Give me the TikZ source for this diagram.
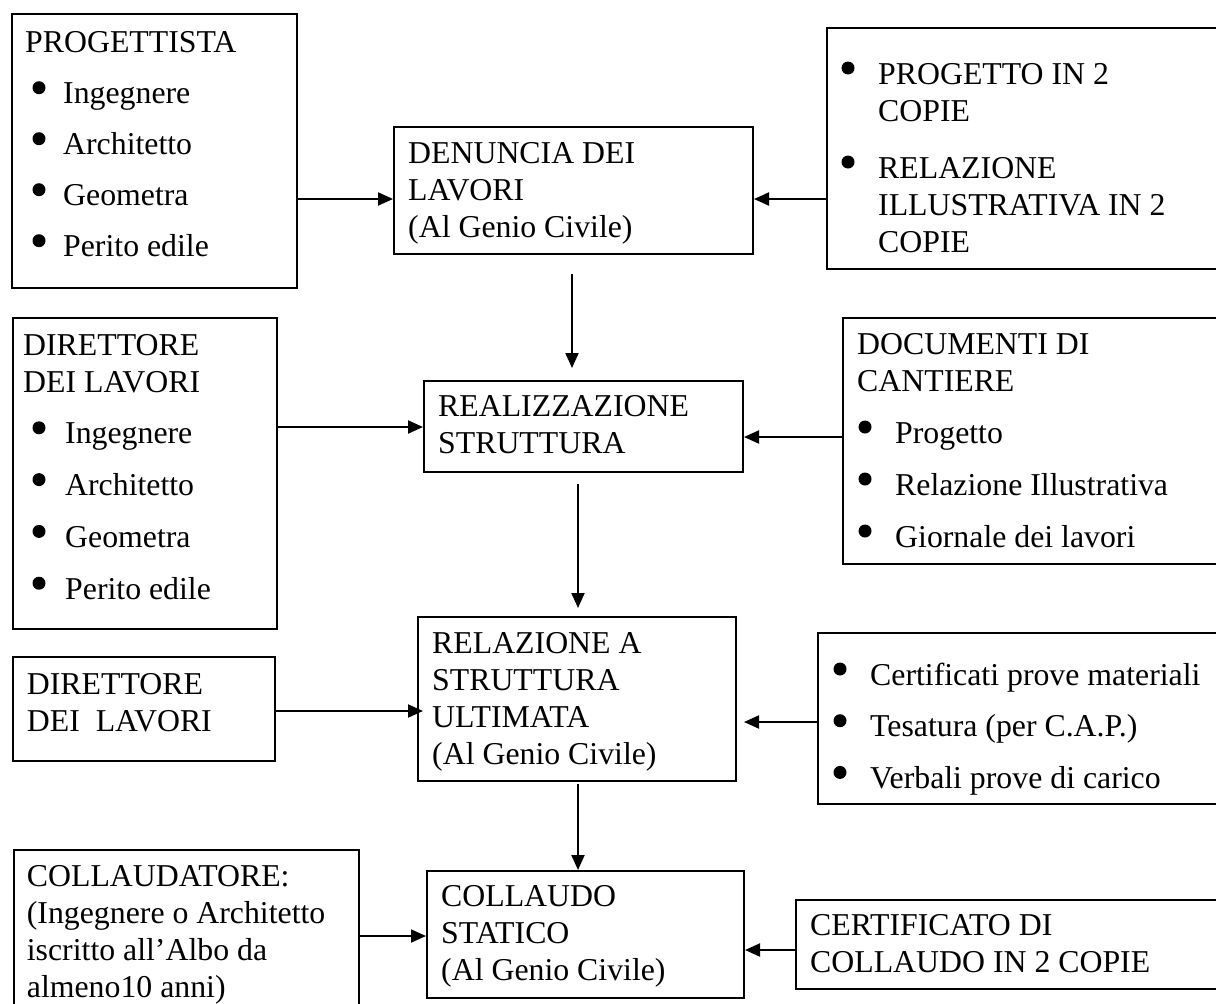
\documentclass[tikz,border=0pt]{standalone}
\usepackage{fontspec}
\setmainfont{Liberation Serif}
\usetikzlibrary{arrows.meta}
\begin{document}
\begin{tikzpicture}[x=1pt,y=-1pt,
  box/.style={draw, line width=2pt, inner sep=0pt, anchor=north west},
  txt/.style={anchor=base west, inner sep=0pt, align=left, font=\fontsize{31.8}{37}\selectfont},
  arr/.style={line width=2pt, -{Triangle[length=15pt,width=13pt]}},
  bul/.style={fill=black}]
\useasboundingbox (0,0) rectangle (1216,1004);
\clip (0,0) rectangle (1216,1004);
% boxes
\node[box, minimum width=285pt, minimum height=274pt] (prog) at (11,13) {};
\node[box, minimum width=359pt, minimum height=127pt] (den) at (393,126) {};
\node[box, minimum width=414pt, minimum height=241pt] (tr) at (826,27) {};
\node[box, minimum width=264pt, minimum height=311pt] (dir) at (12,317) {};
\node[box, minimum width=319pt, minimum height=91pt] (real) at (423,380) {};
\node[box, minimum width=398pt, minimum height=246pt] (doc) at (842,317) {};
\node[box, minimum width=262pt, minimum height=104pt] (dirb) at (12,656) {};
\node[box, minimum width=318pt, minimum height=164pt] (rel) at (417,616) {};
\node[box, minimum width=423pt, minimum height=171pt] (cert) at (817,632) {};
\node[box, minimum width=345pt, minimum height=171pt] (collr) at (13,849) {};
\node[box, minimum width=317pt, minimum height=127pt] (coll) at (426,870) {};
\node[box, minimum width=445pt, minimum height=89pt] (certc) at (795,899) {};
% texts (anchor = baseline of the last line)
\node[txt] (progt) at (25,256.7) {PROGETTISTA\\[14pt]\hspace*{38pt}Ingegnere\\[14pt]\hspace*{38pt}Architetto\\[14pt]\hspace*{38pt}Geometra\\[14pt]\hspace*{38pt}Perito edile};
\node[txt] (dent) at (408,237) {DENUNCIA DEI\\LAVORI\\(Al Genio Civile)};
\node[txt] (trt) at (878,252) {PROGETTO IN 2\\COPIE\\[20pt]RELAZIONE\\ILLUSTRATIVA IN 2\\COPIE};
\node[txt] (dirt) at (23,599.2) {DIRETTORE\\DEI LAVORI\\[14.8pt]\hspace*{42pt}Ingegnere\\[14.8pt]\hspace*{42pt}Architetto\\[14.8pt]\hspace*{42pt}Geometra\\[14.8pt]\hspace*{42pt}Perito edile};
\node[txt] (realt) at (438,453.7) {REALIZZAZIONE\\STRUTTURA};
\node[txt] (doct) at (857,547) {DOCUMENTI DI\\CANTIERE\\[15pt]\hspace*{38pt}Progetto\\[15pt]\hspace*{38pt}Relazione Illustrativa\\[15pt]\hspace*{38pt}Giornale dei lavori};
\node[txt] (dirbt) at (26.7,731) {DIRETTORE\\DEI\ \ LAVORI};
\node[txt] (relt) at (432,764.3) {RELAZIONE A\\STRUTTURA\\ULTIMATA\\(Al Genio Civile)};
\node[txt] (certt) at (870,788.4) {Certificati prove materiali\\[14.7pt]Tesatura (per C.A.P.)\\[14.7pt]Verbali prove di carico};
\node[txt] (collrt) at (26.7,997) {COLLAUDATORE:\\(Ingegnere o Architetto\\iscritto all’Albo da\\almeno10 anni)};
\node[txt] (collt) at (441,980.7) {COLLAUDO\\STATICO\\(Al Genio Civile)};
\node[txt] (certct) at (810,972) {CERTIFICATO DI\\COLLAUDO IN 2 COPIE};
% bullets
\foreach \yy in {87.7,138.7,189.7,240.7} \fill[bul] (39,\yy) circle (6.5pt);
\foreach \yy in {68,162} \fill[bul] (848,\yy) circle (6.5pt);
\foreach \yy in {427.8,479.6,531.4,583.2} \fill[bul] (39,\yy) circle (6.5pt);
\foreach \yy in {427,479,531} \fill[bul] (865,\yy) circle (6.5pt);
\foreach \yy in {669,720.7,772.4} \fill[bul] (840,\yy) circle (6.5pt);
% connectors
\draw[arr] (prog.east |- 0,199) -- (den.west |- 0,199);
\draw[arr] (tr.west |- 0,199) -- (den.east |- 0,199);
\draw[arr, shorten <=19pt, shorten >=12pt] (den.south -| 572,0) -- (real.north -| 572,0);
\draw[arr] (dir.east |- 0,427) -- (real.west |- 0,427);
\draw[arr] (doc.west |- 0,437) -- (real.east |- 0,437);
\draw[arr, shorten <=11pt, shorten >=8pt] (real.south -| 578,0) -- (rel.north -| 578,0);
\draw[arr, shorten >=-6pt] (dirb.east |- 0,711) -- (rel.west |- 0,711);
\draw[arr, shorten >=7pt] (cert.west |- 0,722) -- (rel.east |- 0,722);
\draw[arr, shorten <=2pt] (rel.south -| 578,0) -- (coll.north -| 578,0);
\draw[arr] (collr.east |- 0,936) -- (coll.west |- 0,936);
\draw[arr] (certc.west |- 0,950) -- (coll.east |- 0,950);
\end{tikzpicture}
\end{document}
